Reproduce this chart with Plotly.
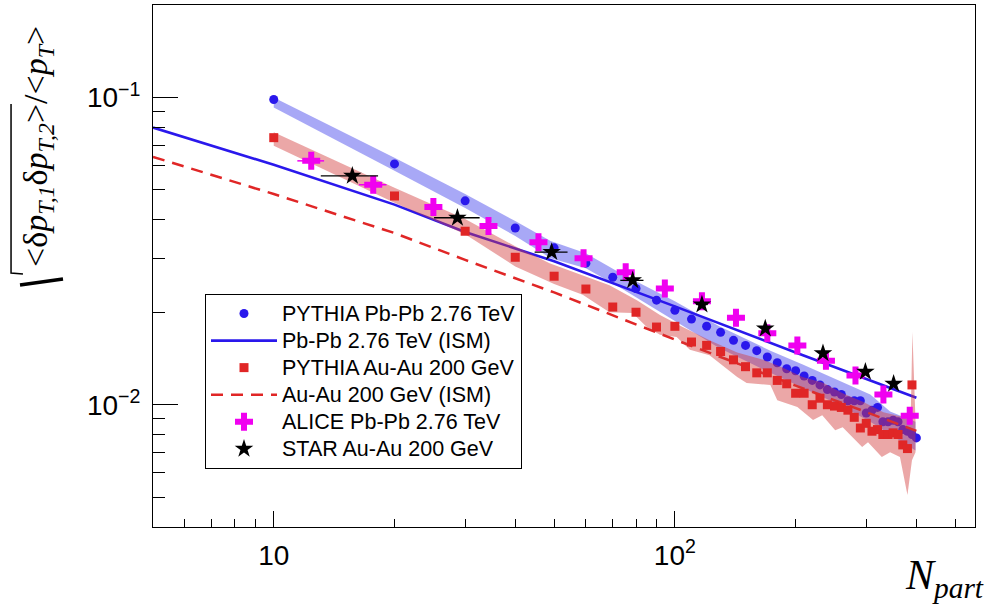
import numpy as np
import plotly.graph_objects as go

# ---------------- data ----------------
npart_pb = list(range(10, 401, 10))
pythia_pb = [0.0985, 0.0608, 0.0461, 0.0376, 0.0324, 0.0289, 0.0260, 0.0239, 0.0219, 0.0203,
             0.0190, 0.0180, 0.0172, 0.0162, 0.0156, 0.0150, 0.0143, 0.0137, 0.0131, 0.0129,
             0.0124, 0.0120, 0.0116, 0.0112, 0.0110, 0.0108, 0.0103, 0.0103, 0.0103, 0.0094,
             0.0096, 0.0098, 0.0088, 0.0088, 0.0089, 0.0088, 0.0083, 0.0082, 0.0080, 0.0078]

pb_band_x = [10, 20, 30, 40, 49, 60, 74, 100, 129, 173, 209, 253, 307, 344, 398]
pb_band_hi = [0.100, 0.0637, 0.0485, 0.0396, 0.0341, 0.0311, 0.0266, 0.0217, 0.0180, 0.0150,
              0.0135, 0.0121, 0.0108, 0.0095, 0.0088]
pb_band_lo = [0.0928, 0.0577, 0.0437, 0.0354, 0.0300, 0.0278, 0.0238, 0.0187, 0.0153, 0.0127,
              0.0113, 0.0101, 0.0088, 0.0080, 0.0071]

npart_au = list(range(10, 391, 10))
pythia_au = [0.0740, 0.0478, 0.0367, 0.0302, 0.0262, 0.0238, 0.0208, 0.0200, 0.0179, 0.0180,
             0.0160, 0.0156, 0.0149, 0.0140, 0.0133, 0.0127, 0.0127, 0.0120, 0.0117, 0.0109,
             0.0109, 0.0100, 0.0105, 0.0100, 0.0099, 0.0098, 0.0096, 0.0091, 0.0084, 0.0087,
             0.0082, 0.0083, 0.0080, 0.0080, 0.0081, 0.0080, 0.0074, 0.0072, 0.0116]

au_band_hi_x = [10, 20, 30, 40, 48.7, 58.9, 68.7, 80.4, 91.8, 104.6, 122, 143, 166, 186, 208,
                234, 262, 295, 331, 371, 387, 391, 398]
au_band_hi = [0.0770, 0.0508, 0.0402, 0.0328, 0.0289, 0.0264, 0.0245, 0.0219, 0.0196, 0.0179,
              0.0162, 0.0148, 0.0140, 0.0132, 0.0123, 0.0118, 0.0109, 0.0102, 0.00946, 0.00912,
              0.0089, 0.01725, 0.0089]
au_band_lo_x = [10, 20, 30, 40, 50, 58.9, 68.7, 78.4, 85.1, 91.8, 101, 109, 122, 143, 151, 173,
                180, 202, 221, 233, 251, 262, 293, 303, 328, 344, 364, 380, 390, 398]
au_band_lo = [0.0697, 0.0454, 0.0359, 0.0282, 0.0247, 0.0228, 0.0200, 0.0199, 0.0179, 0.0169,
              0.0166, 0.0151, 0.0145, 0.0123, 0.01178, 0.0116, 0.01035, 0.00984, 0.00892, 0.00925,
              0.00826, 0.00845, 0.00728, 0.00755, 0.00676, 0.00701, 0.00676, 0.00508, 0.0066, 0.0070]

ism_x = [5, 10, 20, 30, 50, 100, 200, 400]
ism_pb = [0.0798, 0.0604, 0.0448, 0.0365, 0.0293, 0.0209, 0.0148, 0.01054]
ism_au = [0.0641, 0.0485, 0.0362, 0.0296, 0.0232, 0.0163, 0.01154, 0.00822]

alice_x = [12.4, 17.7, 25.0, 34.3, 45.7, 59.2, 75.4, 94.4, 116.8, 142, 170, 202, 238, 282, 331, 385]
alice_y = [0.0622, 0.0520, 0.0440, 0.0382, 0.0338, 0.0300, 0.0270, 0.0239, 0.0217, 0.0192,
           0.0171, 0.0156, 0.0139, 0.01245, 0.0108, 0.0092]
alice_xerr = [0.95, 1.4, 0.8, 1.0, 1.2, 1.5, 1.8, 2.0, 2.5, 3, 3.5, 4, 5, 5, 5, 5]

star_x = [15.7, 28.7, 49.3, 78.5, 116.8, 168, 234, 298.5, 351]
star_y = [0.0556, 0.0406, 0.0314, 0.0254, 0.0212, 0.0177, 0.0147, 0.0128, 0.0117]
star_xerr_plus = [2.5, 3.9, 4.7, 5.0, 4, 4, 4, 4, 4]
star_xerr_minus = [2.6, 3.6, 4.6, 5.4, 4, 4, 4, 4, 4]

x_minor = [6, 7, 8, 9, 20, 30, 40, 50, 60, 70, 80, 90, 200, 300, 400, 500]
y_minor = [0.004, 0.005, 0.006, 0.007, 0.008, 0.009, 0.02, 0.03, 0.04, 0.05, 0.06, 0.07,
           0.08, 0.09, 0.2]

names = ["PYTHIA Pb-Pb 2.76 TeV", "Pb-Pb 2.76 TeV (ISM)", "PYTHIA Au-Au 200 GeV",
         "Au-Au 200 GeV (ISM)", "ALICE Pb-Pb 2.76 TeV", "STAR Au-Au 200 GeV"]

# ---------------- colours ----------------
BLUE = "#2a18ec"
RED = "#e02626"
MAG = "#f000f0"

W, H = 987, 605
ML, MR, MT, MB = 153, 12, 5, 78
PW, PH = W - ML - MR, H - MT - MB


def px(xp):  # pixel x -> paper x
    return (xp - ML) / PW


def py(yp):  # pixel y -> paper y
    return (H - MB - yp) / PH


def lname(s):
    return "<span style='font-size:21.5px'>" + s + "</span>"


fig = go.Figure()

fig.add_trace(go.Scatter(x=pb_band_x + pb_band_x[::-1], y=pb_band_hi + pb_band_lo[::-1],
                         fill="toself", fillcolor="rgba(70,70,235,0.47)", line=dict(width=0),
                         mode="lines", showlegend=False, hoverinfo="skip"))
fig.add_trace(go.Scatter(x=ism_x, y=ism_pb, mode="lines", line=dict(color=BLUE, width=2.6),
                         name=lname(names[1]), legendrank=2))
fig.add_trace(go.Scatter(x=npart_pb, y=pythia_pb, mode="markers",
                         marker=dict(symbol="circle", size=9, color=BLUE),
                         name=lname(names[0]), legendrank=1))
fig.add_trace(go.Scatter(x=ism_x, y=ism_au, mode="lines",
                         line=dict(color=RED, width=2.5, dash="12px,8px"),
                         name=lname(names[3]), legendrank=4))
fig.add_trace(go.Scatter(x=au_band_hi_x + au_band_lo_x[::-1], y=au_band_hi + au_band_lo[::-1],
                         fill="toself", fillcolor="rgba(210,60,60,0.45)", line=dict(width=0),
                         mode="lines", showlegend=False, hoverinfo="skip"))
fig.add_trace(go.Scatter(x=npart_au, y=pythia_au, mode="markers",
                         marker=dict(symbol="square", size=9, color=RED),
                         name=lname(names[2]), legendrank=3))
fig.add_trace(go.Scatter(x=alice_x, y=alice_y, mode="markers",
                         marker=dict(symbol="cross", size=15, color=MAG),
                         error_x=dict(type="data", array=alice_xerr, color=MAG, thickness=1.5, width=0),
                         name=lname(names[4]), legendrank=5))
fig.add_trace(go.Scatter(x=star_x, y=star_y, mode="markers",
                         marker=dict(symbol="star", size=14, color="black"),
                         error_x=dict(type="data", array=star_xerr_plus, arrayminus=star_xerr_minus,
                                      color="black", thickness=1.3, width=0),
                         name=lname(names[5]), legendrank=6))

axis_common = dict(type="log", showgrid=False, zeroline=False, showline=True, linecolor="black",
                   linewidth=1, mirror=True, ticks="inside", tickcolor="black", tickwidth=1,
                   tickfont=dict(family="Liberation Sans", size=28, color="black"))

fig.update_xaxes(**axis_common, range=[np.log10(5), np.log10(560)],
                 tickvals=[10, 100], ticktext=["10", "10<sup>2</sup>"], ticklen=16,
                 ticklabelstandoff=3,
                 minor=dict(tickvals=x_minor, ticks="inside", ticklen=8, tickcolor="black",
                            tickwidth=1, showgrid=False))
fig.update_yaxes(**axis_common, range=[np.log10(0.004), np.log10(0.2)],
                 tickvals=[0.01, 0.1], ticktext=["10<sup>\u22122</sup>", "10<sup>\u22121</sup>"],
                 ticklen=25, ticklabelstandoff=6,
                 minor=dict(tickvals=y_minor, ticks="inside", ticklen=12, tickcolor="black",
                            tickwidth=1, showgrid=False))

ytitle = ("&lt;\u03b4<i>p</i><sub><i>T,1</i></sub>"
          "\u03b4<i>p</i><sub><i>T,2</i></sub>&gt;/&lt;<i>p</i><sub><i>T</i></sub>&gt;")

# radical sign drawn around the y-axis title
rad_path = "M {:.4f} {:.4f} L {:.4f} {:.4f} L {:.4f} {:.4f}".format(
    px(11), py(104), px(11), py(273), px(23), py(274))
rad_arm = "M {:.4f} {:.4f} L {:.4f} {:.4f}".format(px(20), py(285), px(63), py(279))

fig.update_layout(
    width=W, height=H,
    margin=dict(l=ML, r=MR, t=MT, b=MB),
    paper_bgcolor="white", plot_bgcolor="white",
    showlegend=True,
    legend=dict(x=px(205), y=py(294), xanchor="left", yanchor="top",
                bordercolor="black", borderwidth=1, bgcolor="white",
                font=dict(family="Liberation Sans", size=18.5, color="black"),
                traceorder="normal", itemwidth=66, tracegroupgap=0),
    annotations=[
        dict(text=ytitle, xref="paper", yref="paper", x=px(38), y=py(147),
             textangle=-90, showarrow=False, xanchor="center", yanchor="middle",
             font=dict(family="Liberation Serif", size=34, color="black")),
        dict(text="<i>N</i><sub><i>part</i></sub>", xref="paper", yref="paper",
             x=px(986), y=py(578), xanchor="right", yanchor="middle", showarrow=False,
             font=dict(family="Liberation Serif", size=42, color="black")),
    ],
    shapes=[
        dict(type="path", xref="paper", yref="paper", path=rad_path,
             line=dict(color="black", width=1.5)),
        dict(type="path", xref="paper", yref="paper", path=rad_arm,
             line=dict(color="black", width=3.5)),
    ],
)

fig.write_html("out.html")
